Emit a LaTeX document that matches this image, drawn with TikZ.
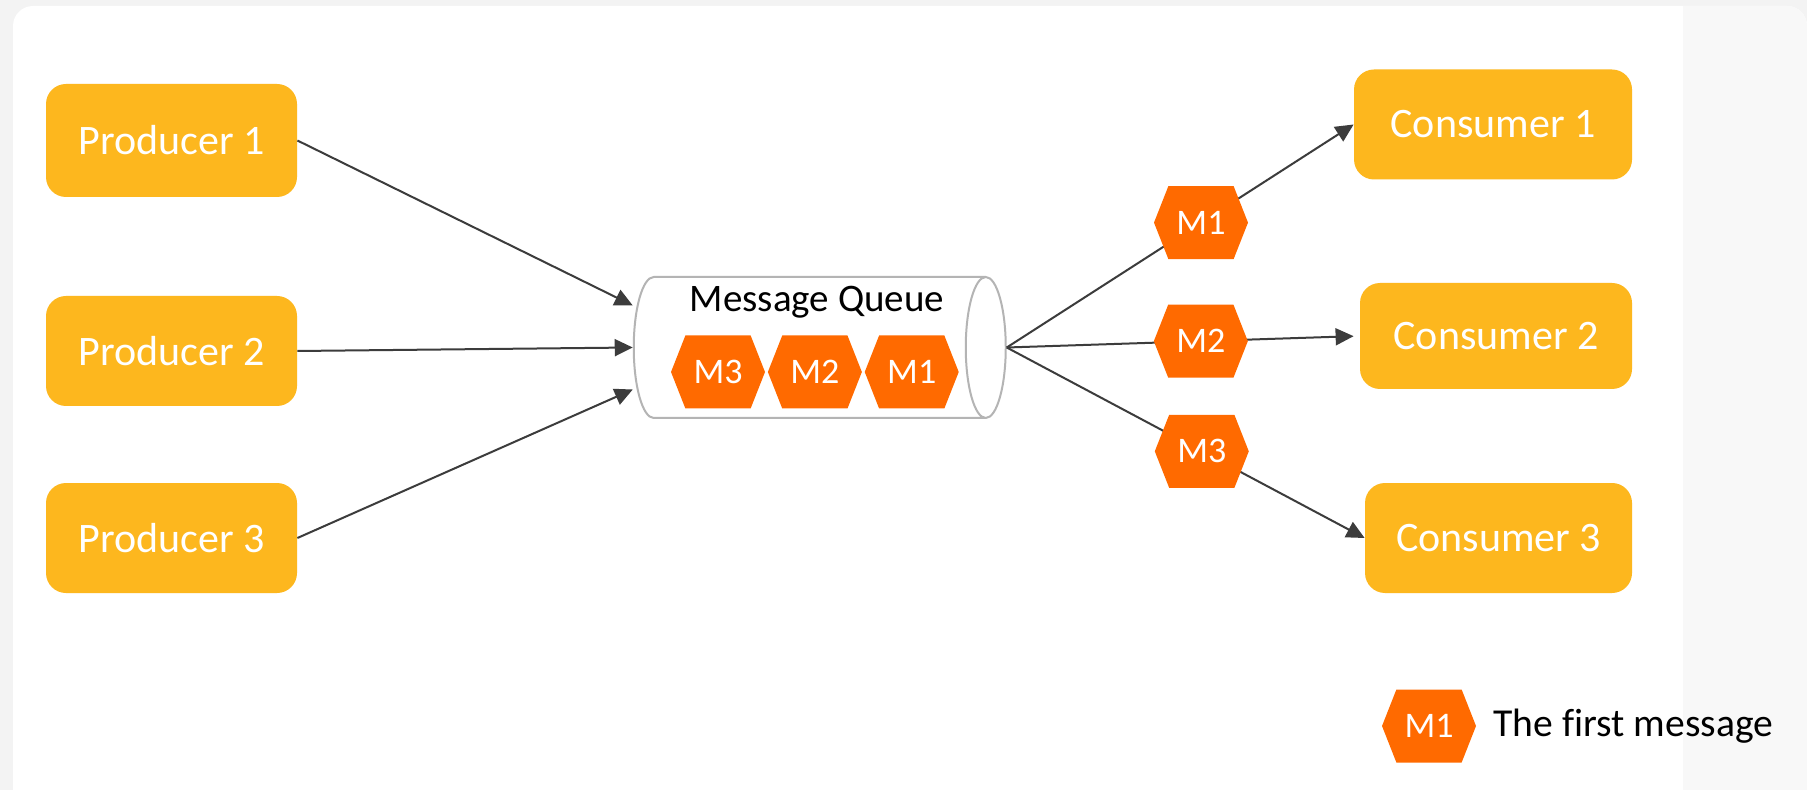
\documentclass[tikz,border=0pt]{standalone}
\usepackage{fontspec}
\setmainfont{Carlito}[Ligatures=NoCommon]
\usetikzlibrary{shapes.geometric, shapes.symbols, arrows.meta, positioning}

\definecolor{boxorange}{HTML}{FDB71E}
\definecolor{msgorange}{HTML}{FF6A00}
\definecolor{arrowgray}{HTML}{3C3C3C}
\definecolor{pagegray}{HTML}{F3F3F3}
\definecolor{stripgray}{HTML}{F8F8F8}
\definecolor{queuegray}{HTML}{B4B4B4}

\begin{document}
\begin{tikzpicture}[
    x=0.5pt, y=-0.5pt,
    node distance={8pt},
    box/.style={rectangle, rounded corners=10pt, fill=boxorange, text=white,
        minimum height=55pt, font=\fontsize{21}{25}\selectfont},
    msg/.style={signal, signal to=east and west, signal pointer angle=137,
        fill=msgorange, text=white, minimum width=47pt, minimum height=36.5pt,
        inner sep=0pt, font=\fontsize{18}{21}\selectfont},
    link/.style={-{Triangle[length=9pt, width=8.5pt]}, line width=1pt, arrowgray}
]

\useasboundingbox (0,0) rectangle (1807,790);
\fill[pagegray] (0,0) rectangle (1807,790);
\fill[white, rounded corners=10pt] (13,790) |- (1807,6) -- (1807,790);
\begin{scope}
    \clip[rounded corners=10pt] (13,790) |- (1807,6) -- (1807,790);
    \fill[stripgray] (1683,0) rectangle (1807,790);
\end{scope}

\node[box, minimum width=125.5pt, minimum height=56.5pt] (p1) at (171.5,140.5) {Producer 1};
\node[box, minimum width=125.5pt] (p2) at (171.5,351) {Producer 2};
\node[box, minimum width=125.5pt] (p3) at (171.5,538) {Producer 3};

\node[box, minimum width=139pt] (c1) at (1493,124.5) {Consumer 1};
\node[box, minimum width=136pt, minimum height=53pt] (c2) at (1496,336) {Consumer 2};
\node[box, minimum width=133.5pt] (c3) at (1498.5,538) {Consumer 3};

% the queue
\node[cylinder, draw=queuegray, line width=1pt, fill=white, aspect=3,
    minimum width=70.5pt, minimum height=186pt] (queue) at (805,347.5) {};
\node[font=\fontsize{19.5}{23}\selectfont] (qlabel) at (817,302) {Message Queue};
\node[msg] (q3) at (718,372) {M3};
\node[msg, right=1pt of q3] (q2) {M2};
\node[msg, right=1pt of q2] (q1) {M1};

\draw[link] (p1.east) -- ([yshift=21pt]queue.west);
\draw[link] (p2.east) -- (queue.west);
\draw[link] (p3.east) -- ([yshift=-21pt]queue.west);

\draw[link] (queue.east) -- node[msg, pos=0.56] (r1) {M1} (c1.west);
\draw[link, shorten >=3pt] (queue.east) -- node[msg, pos=0.55] (r2) {M2} (c2.west);
\draw[link] (queue.east) -- node[msg, pos=0.545] (r3) {M3} (c3.west);

% legend
\node[msg] (key) at (1429,726) {M1};
\node[right=5pt of key, font=\fontsize{19.8}{24}\selectfont] (keytext) {The first message};

\end{tikzpicture}
\end{document}
